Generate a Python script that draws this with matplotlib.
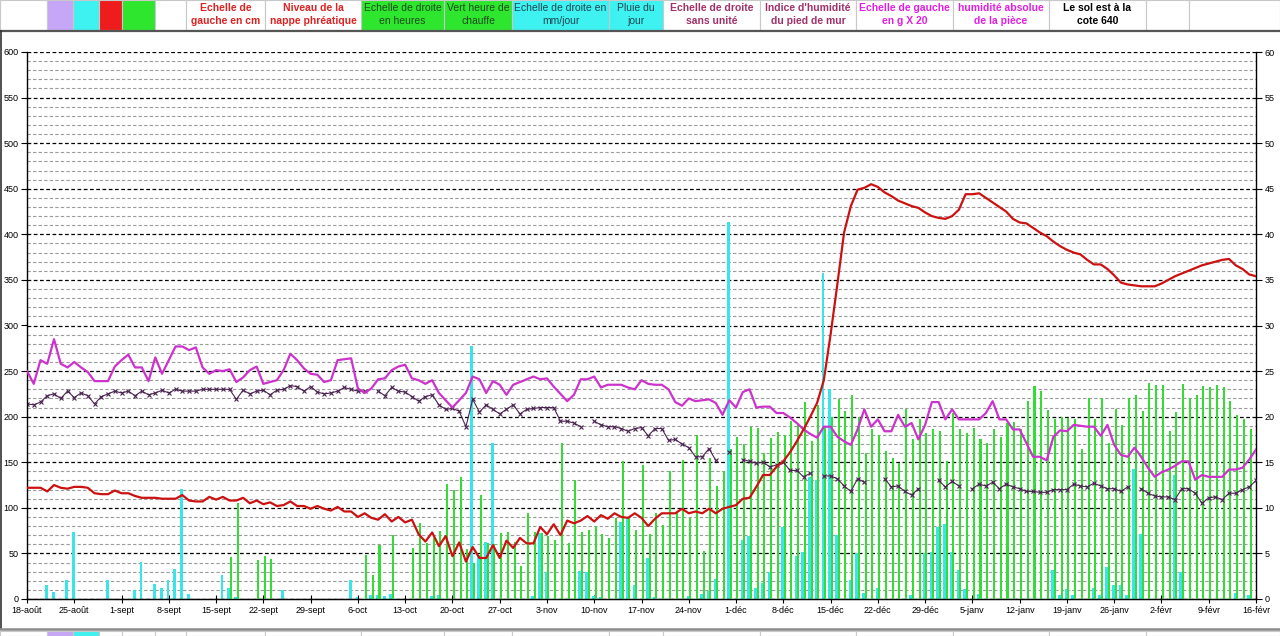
import numpy as np
import matplotlib
matplotlib.use('Agg')
import matplotlib.pyplot as plt
from matplotlib.patches import Rectangle
from matplotlib.lines import Line2D
from matplotlib.ticker import MultipleLocator

plt.rcParams['font.family'] = ['Liberation Sans', 'DejaVu Sans']
nan = np.nan

# axis labels, one every 7 days from 18 August
tick_labels = ['18-août', '25-août', '1-sept', '8-sept', '15-sept', '22-sept', '29-sept',
               '6-oct', '13-oct', '20-oct', '27-oct', '3-nov', '10-nov', '17-nov', '24-nov',
               '1-déc', '8-déc', '15-déc', '22-déc', '29-déc', '5-janv', '12-janv', '19-janv',
               '26-janv', '2-févr', '9-févr', '16-févr']

# Niveau de la nappe phréatique, cm (left scale), one value per day
nappe = [122, 122, 122, 118, 125, 122, 121, 123, 123, 122,
         116, 115, 115, 119, 116, 116, 113, 111, 111, 111,
         110, 110, 110, 114, 108, 107, 107, 112, 109, 112,
         108, 108, 111, 105, 108, 104, 106, 102, 103, 107,
         102, 102, 99, 102, 99, 97, 101, 96, 96, 90,
         94, 89, 87, 93, 85, 90, 84, 87, 71, 63,
         73, 58, 69, 47, 62, 41, 57, 45, 45, 59,
         45, 64, 56, 67, 61, 61, 79, 71, 82, 70,
         86, 83, 86, 91, 85, 92, 88, 94, 90, 89,
         94, 89, 80, 88, 94, 94, 94, 99, 94, 96,
         94, 99, 94, 99, 101, 103, 110, 111, 123, 136,
         136, 145, 151, 161, 173, 186, 200, 215, 240, 290,
         345, 402, 431, 449, 451, 455, 452, 446, 442, 437,
         434, 431, 429, 424, 420, 418, 417, 420, 427, 444,
         444, 445, 440, 435, 430, 425, 417, 413, 412, 407,
         402, 398, 392, 387, 383, 380, 378, 372, 367, 367,
         362, 355, 347, 345, 344, 343, 343, 343, 346, 350,
         354, 357, 360, 363, 366, 368, 370, 372, 373, 366,
         362, 356, 354]

# humidité absolue de la pièce, g x 20 (left scale)
humidite_abs = [250, 236, 262, 258, 285, 258, 254, 260, 254, 249,
                239, 239, 239, 255, 262, 268, 254, 254, 239, 265,
                247, 262, 277, 277, 273, 276, 254, 247, 251, 250,
                252, 238, 243, 251, 255, 236, 238, 240, 251, 269,
                262, 253, 247, 246, 238, 240, 262, 263, 264, 231,
                226, 231, 241, 242, 251, 255, 257, 242, 240, 236,
                240, 226, 218, 210, 218, 226, 244, 241, 226, 239,
                235, 224, 235, 238, 241, 244, 241, 242, 233, 225,
                217, 224, 241, 241, 244, 232, 235, 235, 235, 232,
                230, 240, 236, 235, 235, 230, 216, 212, 220, 217,
                218, 219, 215, 202, 218, 210, 227, 230, 210, 211,
                211, 204, 204, 199, 193, 186, 181, 177, 189, 189,
                178, 173, 169, 186, 208, 189, 197, 184, 184, 202,
                189, 193, 175, 191, 216, 216, 197, 208, 197, 197,
                197, 197, 204, 217, 197, 197, 186, 186, 171, 156,
                156, 152, 178, 185, 184, 191, 190, 189, 189, 179,
                191, 169, 158, 156, 166, 156, 144, 134, 139, 142,
                146, 151, 151, 131, 136, 134, 134, 134, 142, 142,
                144, 153, 164]

# indice d'humidité du pied de mur (right scale, no unit)
indice_mur = [21.4, 21.3, 21.6, 22.3, 22.5, 22.0, 22.8, 22.1, 22.6, 22.3,
              21.4, 22.2, 22.5, 22.8, 22.6, 22.8, 22.3, 22.8, 22.4, 22.6,
              22.9, 22.6, 23.0, 22.8, 22.8, 22.8, 23.0, 23.0, 23.0, 23.0,
              23.0, 21.9, 22.9, 22.5, 22.8, 22.9, 22.4, 22.9, 23.0, 23.4,
              23.3, 22.8, 23.3, 22.7, 22.5, 22.6, 22.8, 23.2, 23.0, 22.8,
              22.8, nan, 22.8, 22.3, 23.2, 22.8, 22.7, 22.2, 21.7, 22.2,
              22.4, 21.3, 20.8, 20.9, 20.6, 18.9, 21.9, 20.5, 21.3, 20.8,
              20.3, 20.8, 21.3, 20.3, 20.8, 20.9, 21.0, 21.0, 21.0, 19.5,
              19.5, 19.3, 18.9, nan, 19.5, 19.1, 18.9, 18.9, 18.7, 18.4,
              18.7, 18.8, 17.9, 18.7, 18.7, 17.4, 17.5, 17.0, 16.6, 15.6,
              15.6, 16.5, 15.2, nan, 16.1, nan, 15.3, 15.1, 14.9, 15.0,
              14.5, 14.7, 15.0, 14.1, 14.1, 13.4, 13.8, nan, 13.5, 13.5,
              13.2, 12.4, 11.8, 13.2, 12.8, nan, nan, 13.2, 12.3, 12.4,
              11.8, 11.4, 12.1, nan, nan, 13.0, 12.3, 12.9, 12.4, nan,
              12.1, 12.6, 12.4, 12.8, 12.1, 12.6, 12.3, 12.1, 11.8, 11.8,
              11.7, 11.7, 12.0, 12.0, 12.0, 12.6, 12.4, 12.3, 12.7, 12.4,
              12.1, 12.1, 11.8, 12.3, nan, 12.1, 11.6, 11.3, 11.2, 11.2,
              10.9, 12.1, 12.1, 11.6, 10.5, 11.1, 11.2, 10.9, 11.6, 11.6,
              12.0, 12.3, 13.0]

# heures de chauffe (right scale, hours)
heures_chauffe = [0, 0, 0, 0, 0, 0, 0, 0, 0, 0,
                  0, 0, 0, 0, 0, 0, 0, 0, 0, 0,
                  0, 0, 0, 0, 0, 0, 0, 0, 0, 0,
                  4.6, 10.5, 0, 0, 4.3, 4.7, 4.4, 0, 0, 0,
                  0, 0, 0, 0, 0, 0, 0, 0, 0, 0,
                  4.8, 2.6, 5.9, 0, 7.0, 0, 0, 5.6, 8.3, 6.1,
                  6.7, 7.5, 12.6, 12.0, 13.4, 5.5, 4.0, 11.4, 6.1, 6.0,
                  7.2, 7.4, 6.3, 3.6, 9.4, 7.4, 7.2, 6.9, 6.5, 17.1,
                  6.1, 13.1, 7.4, 7.6, 8.0, 7.1, 6.7, 8.9, 15.1, 9.0,
                  7.6, 14.7, 7.1, 9.4, 8.1, 14.0, 9.4, 15.3, 8.9, 18.0,
                  5.3, 15.5, 12.4, 14.0, 16.5, 17.8, 17.0, 18.9, 18.8, 16.0,
                  17.7, 18.3, 18.0, 19.5, 19.1, 21.6, 17.3, 21.3, 19.0, 20.0,
                  21.9, 20.6, 22.4, 20.0, 16.0, 18.7, 18.0, 16.2, 15.5, 14.9,
                  20.8, 17.5, 19.7, 18.2, 18.6, 18.4, 15.1, 20.4, 18.6, 18.2,
                  18.8, 17.5, 17.1, 18.6, 17.8, 19.3, 19.4, 18.6, 21.7, 23.4,
                  22.8, 20.7, 19.7, 20.0, 19.9, 19.7, 16.4, 22.1, 19.7, 22.1,
                  17.1, 20.8, 19.1, 22.1, 22.4, 20.6, 23.7, 23.5, 23.5, 18.4,
                  20.5, 23.6, 22.1, 22.4, 23.4, 23.3, 23.5, 23.3, 21.7, 20.2,
                  19.7, 18.6, 0]

# pluie du jour, mm (right scale)
pluie = [0, 0, 0, 1.5, 0.8, 0, 2.1, 7.3, 0, 0,
         0, 0, 2.1, 0, 0, 0, 1.0, 4.1, 0, 1.6,
         1.2, 2.1, 3.3, 12.1, 0.5, 0, 0, 0, 0, 2.6,
         1.2, 0.2, 0, 0, 0, 0, 0, 0, 1.0, 0,
         0, 0, 0, 0, 0, 0, 0, 0, 2.1, 0.2,
         0, 0.4, 0.4, 0.3, 0.5, 0, 0, 0, 0, 0,
         0.3, 0.4, 0, 0, 0, 0, 27.7, 4.8, 6.3, 17.1,
         0, 0, 0, 0, 0, 0.3, 7.2, 3.0, 0, 0,
         0, 0, 3.1, 3.0, 0.3, 0.2, 0, 0, 8.5, 8.9,
         1.5, 0, 4.5, 0.2, 0, 0, 0, 0, 0.3, 0,
         0.5, 0.9, 2.2, 0, 41.4, 0, 6.5, 6.9, 1.2, 1.8,
         3.0, 0, 7.9, 0, 4.7, 5.2, 13.4, 13.1, 35.8, 23.0,
         7.0, 0, 2.1, 5.0, 0.7, 0, 1.2, 0, 0, 0,
         0, 0.4, 0, 5.0, 5.2, 7.9, 8.2, 5.2, 3.2, 1.1,
         0, 0.6, 0, 0, 0, 0, 0, 0, 0, 0,
         0, 0, 3.2, 0.4, 1.1, 0.4, 0, 0, 1.2, 0.4,
         3.5, 1.5, 1.5, 0.4, 14.3, 7.1, 0, 0, 0, 0,
         13.6, 3.0, 0, 0, 0, 0, 0, 0, 0, 0.7,
         0, 0.4, 0]

W, H = 1280, 636
fig = plt.figure(figsize=(W / 100, H / 100), dpi=100)


def fx(x):
    return x / W


def fy(y):
    return 1 - y / H


# ---- spreadsheet header row ----
header = [
    (0, 47, 'white', '', 'black', False),
    (47, 73, '#c6a6f6', '', 'black', False),
    (73, 99, '#3ef2f2', '', 'black', False),
    (99, 122, '#ee1c1c', '', 'black', False),
    (122, 155, '#2ee62e', '', 'black', False),
    (155, 186, 'white', '', 'black', False),
    (186, 265, 'white', 'Echelle de\ngauche en cm', '#dd2222', True),
    (265, 361, 'white', 'Niveau de la\nnappe phréatique', '#dd2222', True),
    (361, 444, '#2ee62e', 'Echelle de droite\nen heures', '#1e4a1e', False),
    (444, 512, '#2ee62e', 'Vert heure de\nchauffe', '#1e4a1e', False),
    (512, 609, '#3ef2f2', 'Echelle de droite en\nmm/jour', '#1e4650', False),
    (609, 663, '#3ef2f2', 'Pluie du\njour', '#1e4650', False),
    (663, 760, 'white', 'Echelle de droite\nsans unité', '#a03068', True),
    (760, 856, 'white', "Indice d'humidité\ndu pied de mur", '#a03068', True),
    (856, 953, 'white', 'Echelle de gauche\nen g X 20', '#e020e0', True),
    (953, 1049, 'white', 'humidité absolue\nde la pièce', '#e020e0', True),
    (1049, 1146, 'white', 'Le sol est à la\ncote 640', 'black', True),
    (1146, 1189, 'white', '', 'black', False),
    (1189, 1280, 'white', '', 'black', False),
]
for x0, x1, bg, txt, col, bold in header:
    fig.add_artist(Rectangle((fx(x0), fy(30)), fx(x1 - x0), 30 / H,
                             transform=fig.transFigure, facecolor=bg,
                             edgecolor='#c8c8c8', lw=0.8))
    if txt:
        l1, l2 = txt.split('\n')
        fig.text(fx((x0 + x1) / 2), fy(8), l1, ha='center', va='center',
                 fontsize=7.5, color=col, fontweight='bold' if bold else 'normal')
        fig.text(fx((x0 + x1) / 2), fy(21), l2, ha='center', va='center',
                 fontsize=7.5, color=col, fontweight='bold' if bold else 'normal')

fig.add_artist(Line2D([0, 1], [fy(31), fy(31)], transform=fig.transFigure,
                      color='#555555', lw=1.6))
fig.add_artist(Line2D([fx(1), fx(1)], [fy(31), fy(628)], transform=fig.transFigure,
                      color='#333333', lw=1.2))

# bottom strip
fig.add_artist(Line2D([0, 1], [fy(628.5), fy(628.5)], transform=fig.transFigure,
                      color='#8a8a8a', lw=1.8))
for x0, x1, bg in [(0, 47, 'white'), (47, 73, '#c6a6f6'), (73, 99, '#3ef2f2'),
                   (99, 122, 'white'), (122, 155, 'white'), (155, 186, 'white'),
                   (186, 265, 'white'), (265, 361, 'white'), (361, 444, 'white'),
                   (444, 512, 'white'), (512, 609, 'white'), (609, 663, 'white'),
                   (663, 760, 'white'), (760, 856, 'white'), (856, 953, 'white'),
                   (953, 1049, 'white'), (1049, 1146, 'white'), (1146, 1280, 'white')]:
    fig.add_artist(Rectangle((fx(x0), 0), fx(x1 - x0), fy(630.5), transform=fig.transFigure,
                             facecolor=bg, edgecolor='#c8c8c8', lw=0.8))

# ---- chart ----
ax2 = fig.add_axes([fx(27), 1 - 599 / H, fx(1229), 547 / H])
ax = ax2.twinx()
ax.yaxis.tick_left()
ax2.yaxis.tick_right()
ax.set_zorder(ax2.get_zorder() + 1)
ax.patch.set_visible(False)

n = len(nappe)
days = np.arange(n)

# gridlines (right scale 0-60 matches left scale 0-600)
ax2.set_ylim(0, 60)
ax2.yaxis.set_major_locator(MultipleLocator(5))
ax2.yaxis.set_minor_locator(MultipleLocator(1))
ax2.set_axisbelow(True)
ax2.grid(which='minor', axis='y', color='#9a9a9a', ls=(0, (3, 2)), lw=0.8)
ax2.grid(which='major', axis='y', color='black', ls=(0, (3, 2)), lw=0.9)

ax2.bar(days - 0.12, pluie, width=0.42, color='#38e6ea', zorder=2)
ax2.bar(days + 0.2, heures_chauffe, width=0.3, color='#33dd33', zorder=3)
ax2.plot(days, indice_mur, color='#4a2450', lw=0.8, marker='x', ms=3.2,
         mew=0.8, zorder=4)

ax.plot(days, humidite_abs, color='#cc33cc', lw=1.6, zorder=5)
ax.plot(days, nappe, color='#cc1111', lw=1.6, zorder=6)

ax.set_ylim(0, 600)
ax.yaxis.set_major_locator(MultipleLocator(50))
ax.set_xlim(0, n - 1)
ax2.set_xlim(0, n - 1)
ax2.set_xticks(np.arange(0, n, 7))
ax2.set_xticklabels(tick_labels)

for a in (ax, ax2):
    a.spines['top'].set_visible(False)
ax.spines['right'].set_visible(False)
ax2.spines['left'].set_visible(False)
ax.spines['left'].set_linewidth(1.0)
ax2.spines['right'].set_linewidth(1.0)
ax2.spines['bottom'].set_linewidth(1.0)

ax.tick_params(axis='y', labelsize=6.5, length=4, width=0.8, pad=2)
ax2.tick_params(axis='y', which='major', labelsize=6.5, length=4, width=0.8, pad=2)
ax2.tick_params(axis='y', which='minor', length=0)
ax2.tick_params(axis='x', labelsize=6.5, length=6, width=0.8, direction='inout', pad=2)

fig.savefig('out.png', dpi=100, facecolor='white')
